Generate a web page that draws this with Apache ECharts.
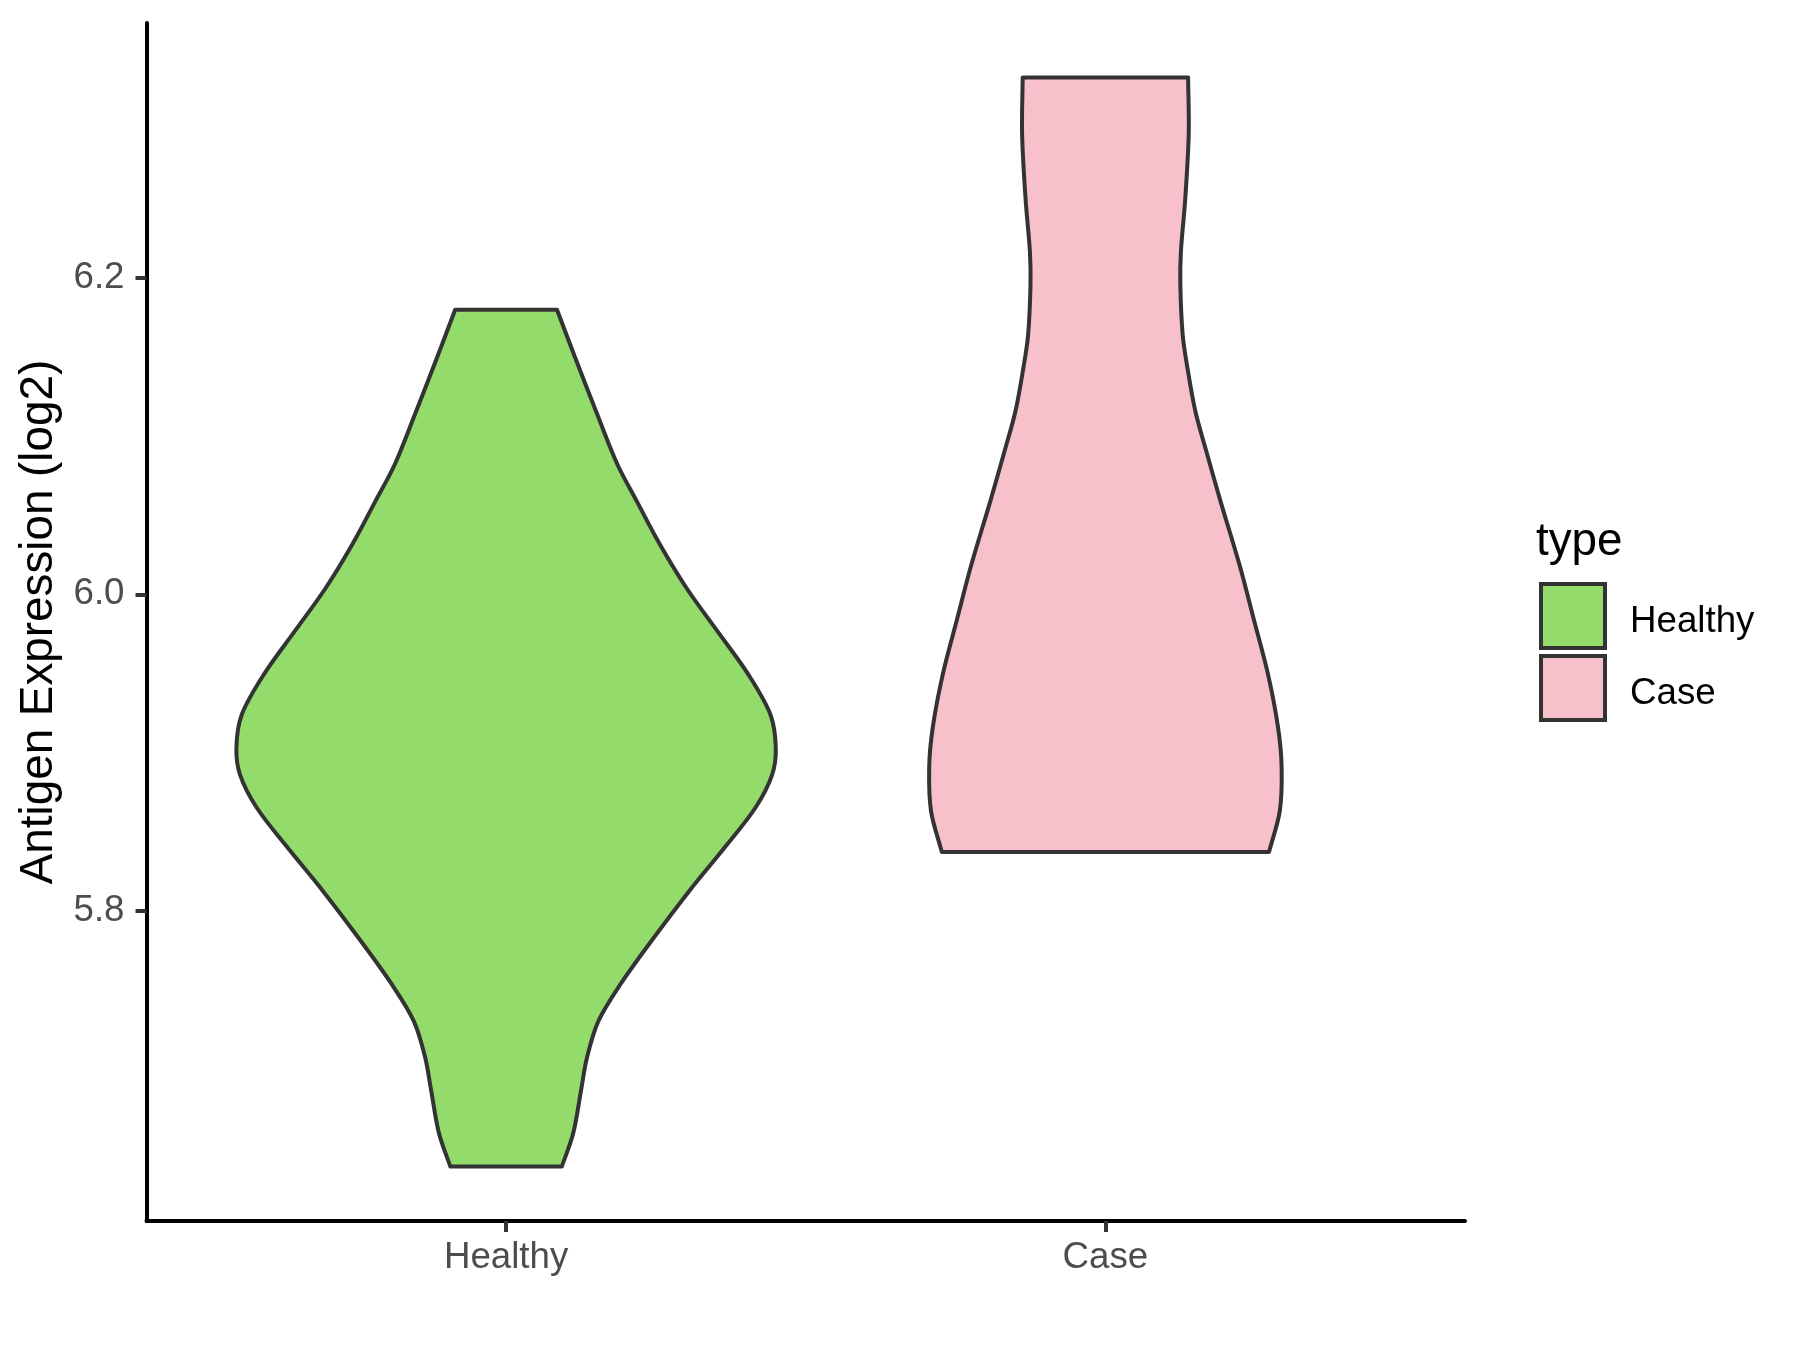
<!DOCTYPE html>
<html>
<head>
<meta charset="utf-8">
<script src="https://cdn.jsdelivr.net/npm/echarts@6/dist/echarts.min.js"></script>
<style>
html, body { margin: 0; padding: 0; background: #ffffff; }
#chart { width: 1800px; height: 1350px; }
</style>
</head>
<body>
<div id="chart"></div>
<script>
// ---- Data ----
const categories = ['Healthy', 'Case'];
const legendTitle = 'type';
const yAxisTitle = 'Antigen Expression (log2)';
const yTickValues = [5.8, 6.0, 6.2];

// Healthy violin outline: y values (top to bottom) and half-width (x units)
const healthyY = [6.180, 6.150, 6.112, 6.082, 6.059, 6.032, 6.004, 5.977, 5.950, 5.924, 5.903,
                  5.886, 5.865, 5.840, 5.813, 5.781, 5.754, 5.730, 5.707, 5.686, 5.659, 5.638];
const healthyHalfWidth = [0.085, 0.115, 0.154, 0.186, 0.218, 0.256, 0.301, 0.352, 0.403, 0.441, 0.450,
                          0.444, 0.416, 0.365, 0.307, 0.243, 0.192, 0.154, 0.135, 0.125, 0.112, 0.093];

// Case violin outline
const caseY = [6.327, 6.291, 6.249, 6.217, 6.196, 6.164, 6.143, 6.116, 6.091, 6.059,
               6.017, 5.985, 5.950, 5.916, 5.891, 5.863, 5.837];
const caseHalfWidth = [0.138, 0.139, 0.133, 0.126, 0.125, 0.129, 0.137, 0.150, 0.168, 0.192,
                       0.225, 0.247, 0.271, 0.288, 0.294, 0.291, 0.273];

const fillColors = ['#93DC6B', '#F7C0CB'];
const outlineColor = '#333333';

// ---- Scale extent (ggplot default 5% expansion) ----
const allY = healthyY.concat(caseY);
const yLo = Math.min.apply(null, allY), yHi = Math.max.apply(null, allY);
const yPad = (yHi - yLo) * 0.05;
const yMin = yLo - yPad, yMax = yHi + yPad;

const FONT = '"Liberation Sans", Arial, Helvetica, sans-serif';

function violinRenderer(pos, ys, hws, fill) {
  return function (params, api) {
    const n = ys.length;
    const pts = [];
    for (let i = 0; i < n; i++) {
      const p = api.coord([pos - hws[i], ys[i]]);
      pts.push(p);
      if (i === 0 || i === n - 1) pts.push([p[0], p[1]]);
    }
    for (let i = n - 1; i >= 0; i--) {
      const p = api.coord([pos + hws[i], ys[i]]);
      pts.push(p);
      if (i === 0 || i === n - 1) pts.push([p[0], p[1]]);
    }
    return {
      type: 'polygon',
      shape: { points: pts, smooth: 0.33 },
      style: { fill: fill, stroke: outlineColor, lineWidth: 4, lineJoin: 'round' }
    };
  };
}

const groups = [
  { ys: healthyY, hws: healthyHalfWidth },
  { ys: caseY, hws: caseHalfWidth }
];

const series = categories.map(function (name, i) {
  const g = groups[i];
  return {
    type: 'custom',
    name: name,
    data: [[i + 1, Math.min.apply(null, g.ys), Math.max.apply(null, g.ys)]],
    encode: { x: 0, y: [1, 2] },
    itemStyle: { color: fillColors[i], borderColor: outlineColor, borderWidth: 4 },
    renderItem: violinRenderer(i + 1, g.ys, g.hws, fillColors[i]),
    silent: true
  };
});

const chart = echarts.init(document.getElementById('chart'), null, { renderer: 'canvas' });
chart.setOption({
  animation: false,
  backgroundColor: '#ffffff',
  textStyle: { fontFamily: FONT },
  title: {
    text: legendTitle,
    left: 1536, top: 519, padding: 0,
    textStyle: { fontFamily: FONT, fontSize: 45.8, fontWeight: 'normal', color: '#000000' }
  },
  legend: {
    orient: 'vertical',
    left: 1539, top: 582, padding: 0,
    itemWidth: 64, itemHeight: 64, itemGap: 4,
    icon: 'rect',
    selectedMode: false,
    data: categories.map(function (c, i) {
      return { name: c, icon: 'rect', itemStyle: { color: fillColors[i], borderColor: outlineColor, borderWidth: 4 } };
    }),
    formatter: '{t|{name}}',
    textStyle: {
      fontFamily: FONT, fontSize: 36.7, color: '#000000',
      rich: { t: { fontFamily: FONT, fontSize: 36.7, color: '#000000', padding: [12, 0, 0, 20] } }
    }
  },
  grid: { left: 146.5, right: 335, top: 23, bottom: 129, containLabel: false },
  xAxis: {
    type: 'value',
    min: 0.4, max: 2.6,
    axisLine: { show: true, onZero: false, lineStyle: { color: '#000000', width: 4 } },
    axisTick: { show: true, customValues: [1, 2], length: 11, lineStyle: { color: '#333333', width: 4 } },
    axisLabel: {
      show: true, customValues: [1, 2],
      formatter: function (v) { return categories[Math.round(v) - 1] || ''; },
      fontFamily: FONT, fontSize: 36.7, color: '#4D4D4D', margin: 18
    },
    splitLine: { show: false }
  },
  yAxis: {
    type: 'value',
    min: yMin, max: yMax,
    name: yAxisTitle,
    nameLocation: 'middle',
    nameGap: 80,
    nameTextStyle: { fontFamily: FONT, fontSize: 45.8, color: '#000000' },
    axisLine: { show: true, onZero: false, lineStyle: { color: '#000000', width: 4 } },
    axisTick: { show: true, customValues: yTickValues, length: 11, lineStyle: { color: '#333333', width: 4 } },
    axisLabel: {
      show: true, customValues: yTickValues,
      formatter: function (v) { return Number(v).toFixed(1); },
      fontFamily: FONT, fontSize: 36.7, color: '#4D4D4D', margin: 22
    },
    splitLine: { show: false }
  },
  series: series
});
</script>
</body>
</html>
